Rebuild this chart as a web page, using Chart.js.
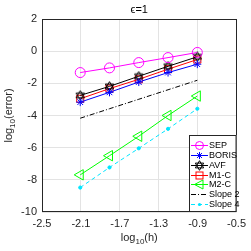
<!DOCTYPE html>
<html><head><meta charset="utf-8">
<script src="https://cdn.jsdelivr.net/npm/chart.js@4/dist/chart.umd.min.js"></script>
<style>html,body{margin:0;padding:0;background:#fff;}canvas{display:block;}</style>
</head><body>
<canvas id="c" width="251" height="251"></canvas>
<script>
// ---- data ----
const logH = [-2.107, -1.806, -1.505, -1.204, -0.903];
const sep = [-1.33, -1.04, -0.71, -0.40, -0.08];
const boris = [-3.17, -2.56, -1.92, -1.33, -0.81];
const avf = [-2.75, -2.19, -1.56, -0.94, -0.35];
const m1c = [-2.96, -2.33, -1.75, -1.12, -0.52];
const m2c = [-7.69, -6.50, -5.29, -4.00, -2.79];
const slope2 = [-4.17, -3.58, -2.99, -2.40, -1.81];
const slope4 = [-8.48, -7.23, -6.04, -4.83, -3.58];
const seriesNames = ['SEP', 'BORIS', 'AVF', 'M1-C', 'M2-C', 'Slope 2', 'Slope 4'];
const xTicks = [-2.5, -2.1, -1.7, -1.3, -0.9, -0.5];
const yTicks = [-10, -8, -6, -4, -2, 0, 2];
const titleText = '\u03F5=1';

const FONT = '"Liberation Sans", Arial, Helvetica, sans-serif';

function hexagram(color) {
  const c = document.createElement('canvas');
  c.width = 11; c.height = 11;
  const g = c.getContext('2d');
  g.strokeStyle = color; g.lineWidth = 1;
  const cx = 5.5, cy = 5.5, r = 4.8;
  for (let t = 0; t < 2; t++) {
    g.beginPath();
    for (let i = 0; i < 3; i++) {
      const a = -Math.PI / 2 + t * Math.PI + i * 2 * Math.PI / 3;
      const px = cx + r * Math.cos(a), py = cy + r * Math.sin(a);
      if (i === 0) g.moveTo(px, py); else g.lineTo(px, py);
    }
    g.closePath(); g.stroke();
  }
  return c;
}
const hexImg = hexagram('#000');

function pts(ys) { return logH.map((x, i) => ({x: x, y: ys[i]})); }

const datasets = [
  {label: seriesNames[0], data: pts(sep), borderColor: '#ff00ff', pointStyle: 'circle', pointRadius: 5, mk: 'circle'},
  {label: seriesNames[1], data: pts(boris), borderColor: '#0000ff', pointStyle: 'star', pointRadius: 4, mk: 'star'},
  {label: seriesNames[2], data: pts(avf), borderColor: '#000000', pointStyle: hexImg, pointRadius: 5, mk: 'hex'},
  {label: seriesNames[3], data: pts(m1c), borderColor: '#ff0000', pointStyle: 'rect', pointRadius: 5, mk: 'rect'},
  {label: seriesNames[4], data: pts(m2c), borderColor: '#00ff00', pointStyle: 'triangle', pointRotation: -90, pointRadius: 6, mk: 'tri'},
  {label: seriesNames[5], data: pts(slope2), borderColor: '#000000', pointRadius: 0, borderDash: [5, 2, 1, 2], mk: 'none'},
  {label: seriesNames[6], data: pts(slope4), borderColor: '#00e5ff', pointStyle: 'circle', pointRadius: 1.6, pointBackgroundColor: '#00e5ff', borderDash: [4, 3], mk: 'dot'}
].map(d => Object.assign({
  borderWidth: 1, pointBorderWidth: 1, backgroundColor: 'transparent',
  pointBackgroundColor: d.pointBackgroundColor || 'transparent',
  pointBorderColor: d.borderColor, fill: false, tension: 0
}, d));

function drawMarker(g, mk, x, y, color) {
  g.save(); g.strokeStyle = color; g.fillStyle = color; g.lineWidth = 1; g.setLineDash([]);
  if (mk === 'circle') { g.beginPath(); g.arc(x, y, 4, 0, 2 * Math.PI); g.stroke(); }
  else if (mk === 'star') {
    const r = 3.5; g.beginPath();
    for (let i = 0; i < 4; i++) { const a = i * Math.PI / 4; g.moveTo(x - r * Math.cos(a), y - r * Math.sin(a)); g.lineTo(x + r * Math.cos(a), y + r * Math.sin(a)); }
    g.stroke();
  }
  else if (mk === 'hex') { g.drawImage(hexImg, Math.round(x - 5.5), Math.round(y - 5.5)); }
  else if (mk === 'rect') { g.strokeRect(x - 3.5, y - 3.5, 7, 7); }
  else if (mk === 'tri') { g.beginPath(); g.moveTo(x - 5, y); g.lineTo(x + 3.5, y - 4.5); g.lineTo(x + 3.5, y + 4.5); g.closePath(); g.stroke(); }
  else if (mk === 'dot') { g.beginPath(); g.arc(x, y, 1.6, 0, 2 * Math.PI); g.fill(); }
  g.restore();
}

const deco = {
  id: 'deco',
  beforeDatasetsDraw(chart) {
    const g = chart.ctx, a = chart.chartArea;
    g.save(); g.strokeStyle = '#262626'; g.lineWidth = 1;
    g.strokeRect(Math.round(a.left) + 0.5, Math.round(a.top) + 0.5, Math.round(a.right - a.left) - 1, Math.round(a.bottom - a.top) - 1);
    g.restore();
  },
  afterDraw(chart) {
    const g = chart.ctx, a = chart.chartArea;
    g.save();
    // title
    g.fillStyle = '#000'; g.font = '11px ' + FONT; g.textAlign = 'center'; g.textBaseline = 'middle';
    g.fillText(titleText, (a.left + a.right) / 2, 10);
    // axis titles with subscripts
    function subTitle(cx, cy) {
      g.font = '11px ' + FONT; const w1 = g.measureText('log').width, w3 = g.measureText(this.suffix).width;
      g.font = '8px ' + FONT; const w2 = g.measureText('10').width;
      const tot = w1 + w2 + w3; let x = cx - tot / 2;
      g.textAlign = 'left'; g.textBaseline = 'alphabetic'; g.fillStyle = '#262626';
      g.font = '11px ' + FONT; g.fillText('log', x, cy); x += w1;
      g.font = '8px ' + FONT; g.fillText('10', x, cy + 3); x += w2;
      g.font = '11px ' + FONT; g.fillText(this.suffix, x, cy);
    }
    subTitle.call({suffix: '(h)'}, (a.left + a.right) / 2, 241);
    g.save(); g.translate(12, (a.top + a.bottom) / 2); g.rotate(-Math.PI / 2);
    subTitle.call({suffix: '(error)'}, 0, 0);
    g.restore();
    // legend
    const lx = 189, ly = 135, lw = a.right - 189, lh = a.bottom - 135;
    g.fillStyle = '#fff'; g.fillRect(lx, ly, lw, lh);
    g.strokeStyle = '#262626'; g.lineWidth = 1; g.strokeRect(lx + 0.5, ly + 0.5, lw - 1, lh - 1);
    const step = (lh - 8) / datasets.length;
    datasets.forEach((d, i) => {
      const y = Math.round(ly + 5 + step * (i + 0.5)) + 0.5;
      g.save(); g.strokeStyle = d.borderColor; g.lineWidth = 1; g.setLineDash(d.borderDash || []);
      g.beginPath(); g.moveTo(191, y); g.lineTo(208, y); g.stroke(); g.restore();
      drawMarker(g, d.mk, 199.5, y, d.borderColor);
      g.fillStyle = '#000'; g.font = '9px ' + FONT; g.textAlign = 'left'; g.textBaseline = 'middle';
      g.fillText(d.label, 209, y);
    });
    g.restore();
  }
};

new Chart(document.getElementById('c'), {
  type: 'line',
  data: {datasets: datasets},
  options: {
    responsive: false, animation: false, devicePixelRatio: 1,
    layout: {padding: {left: 0, top: 19, right: 9, bottom: 0}},
    plugins: {legend: {display: false}, title: {display: false}, tooltip: {enabled: false}},
    scales: {
      x: {
        type: 'linear', min: -2.5, max: -0.5,
        afterBuildTicks: s => { s.ticks = xTicks.map(v => ({value: v})); },
        afterFit: s => { s.height = 39; },
        grid: {color: '#e3e3e3', drawTicks: false},
        border: {display: false},
        ticks: {padding: 5, color: '#262626', font: {family: FONT, size: 11}, maxRotation: 0,
          callback: v => v.toFixed(1)}
      },
      y: {
        type: 'linear', min: -10, max: 2,
        afterBuildTicks: s => { s.ticks = yTicks.map(v => ({value: v})); },
        afterFit: s => { s.width = 42; },
        grid: {color: '#e3e3e3', drawTicks: false},
        border: {display: false},
        ticks: {padding: 5, color: '#262626', font: {family: FONT, size: 11},
          callback: v => String(v)}
      }
    }
  },
  plugins: [deco]
});
</script>
</body></html>
